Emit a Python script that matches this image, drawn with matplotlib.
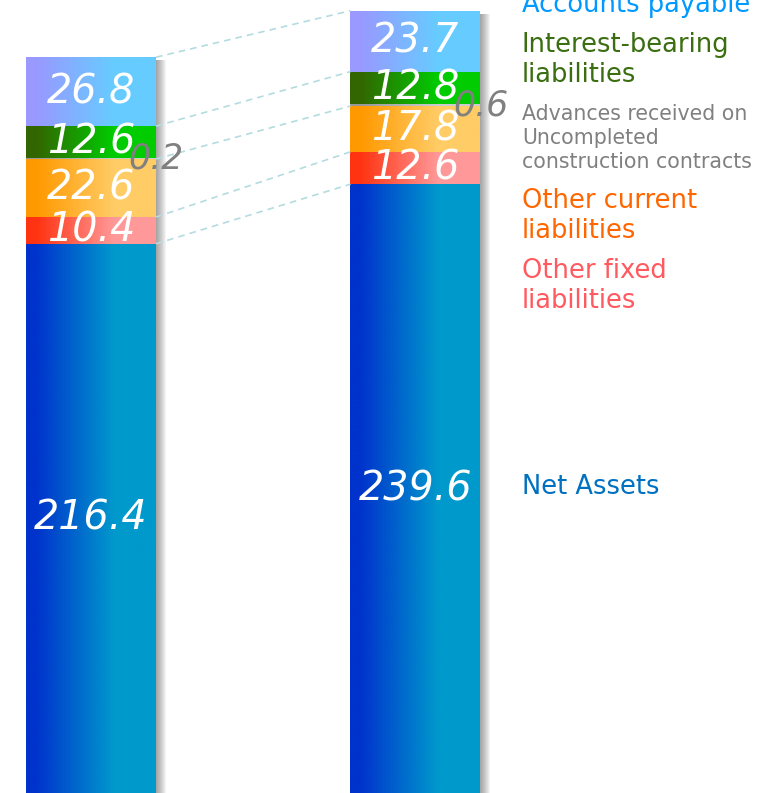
import matplotlib.pyplot as plt
import numpy as np
from matplotlib.colors import LinearSegmentedColormap
from matplotlib.patches import Rectangle

# stacked segments from bottom to top
segments = ['Net Assets', 'Other fixed liabilities', 'Other current liabilities',
            'Advances received', 'Interest-bearing liabilities', 'Accounts payable']
prev_vals = [216.4, 10.4, 22.6, 0.2, 12.6, 26.8]
curr_vals = [239.6, 12.6, 17.8, 0.6, 12.8, 23.7]

legend_labels = ['Net Assets', 'Other fixed\nliabilities', 'Other current\nliabilities',
                 'Advances received on\nUncompleted\nconstruction contracts',
                 'Interest-bearing\nliabilities', 'Accounts payable']

# gradient colours (left -> right) per segment
grads = [('#0033CC', '#0099CC'), ('#FF3311', '#FF9999'), ('#FF9900', '#FFCC66'),
         ('#999999', '#CCCCCC'), ('#336600', '#00CC00'), ('#9999FF', '#66CCFF')]
legend_colors = ['#0070C0', '#FF5A60', '#FF6600', '#808080', '#3A6E10', '#0099FF']
legend_sizes = [18.5, 18.5, 18.5, 14.8, 18.5, 18.5]
legend_ypx = [487, 286.5, 216, 138.5, 60.5, 5]

W, H = 769, 793
fig = plt.figure(figsize=(W / 100, H / 100), dpi=100)
ax = fig.add_axes([0, 0, 1, 1])
ax.set_axis_off()

px = 1 / 324.5          # one pixel in x data units
xl = -91 * px
ylo = 2.7
ypx = 1 / 2.57

width = 130 * px
xs = [0, 1]
grad = np.linspace(0, 1, 256).reshape(1, -1)

for x, vals in zip(xs, [prev_vals, curr_vals]):
    left = x - width / 2
    right = x + width / 2
    top_total = sum(vals)
    # drop shadow on the right side
    for i in range(10):
        ax.add_patch(Rectangle((right, 0), (i + 1) * px, top_total - 3 * ypx,
                               color='#444444', alpha=0.06, lw=0, zorder=1))
    bottom = 0
    for k, v in enumerate(vals):
        c1, c2 = grads[k]
        cmap = LinearSegmentedColormap.from_list(
            'g%d' % k, [(0, c1), (0.08, c1), (0.68, c2), (1, c2)])
        ax.imshow(grad, cmap=cmap, aspect='auto', zorder=2,
                  extent=[left, right, bottom, bottom + v], interpolation='bilinear')
        if v >= 1:
            ymid = (max(bottom, ylo) + bottom + v) / 2
            ax.text(x, ymid, '%.1f' % v, color='white', fontsize=28.5, style='italic',
                    ha='center', va='center', zorder=5)
        else:
            ax.text(right, bottom + v / 2, '%.1f' % v, color='#808080', fontsize=25,
                    style='italic', ha='center', va='center', zorder=5)
        bottom += v

# dashed connectors between segment boundaries
c1 = np.cumsum(prev_vals)
c2 = np.cumsum(curr_vals)
for idx in [0, 1, 2, 4, 5]:
    ax.plot([xs[0] + width / 2, xs[1] - width / 2], [c1[idx], c2[idx]],
            ls=(0, (4, 3)), color='#B4DCE0', lw=1.2, zorder=3)

ax.set_xlim(xl, xl + W * px)
ax.set_ylim(ylo, ylo + H / 2.57)

for lab, col, fs, yp in zip(legend_labels, legend_colors, legend_sizes, legend_ypx):
    fig.text(522 / W, 1 - yp / H, lab, color=col, fontsize=fs, ha='left', va='center',
             linespacing=1.25 if fs < 18 else 1.2)

fig.savefig('out.png', dpi=100)
